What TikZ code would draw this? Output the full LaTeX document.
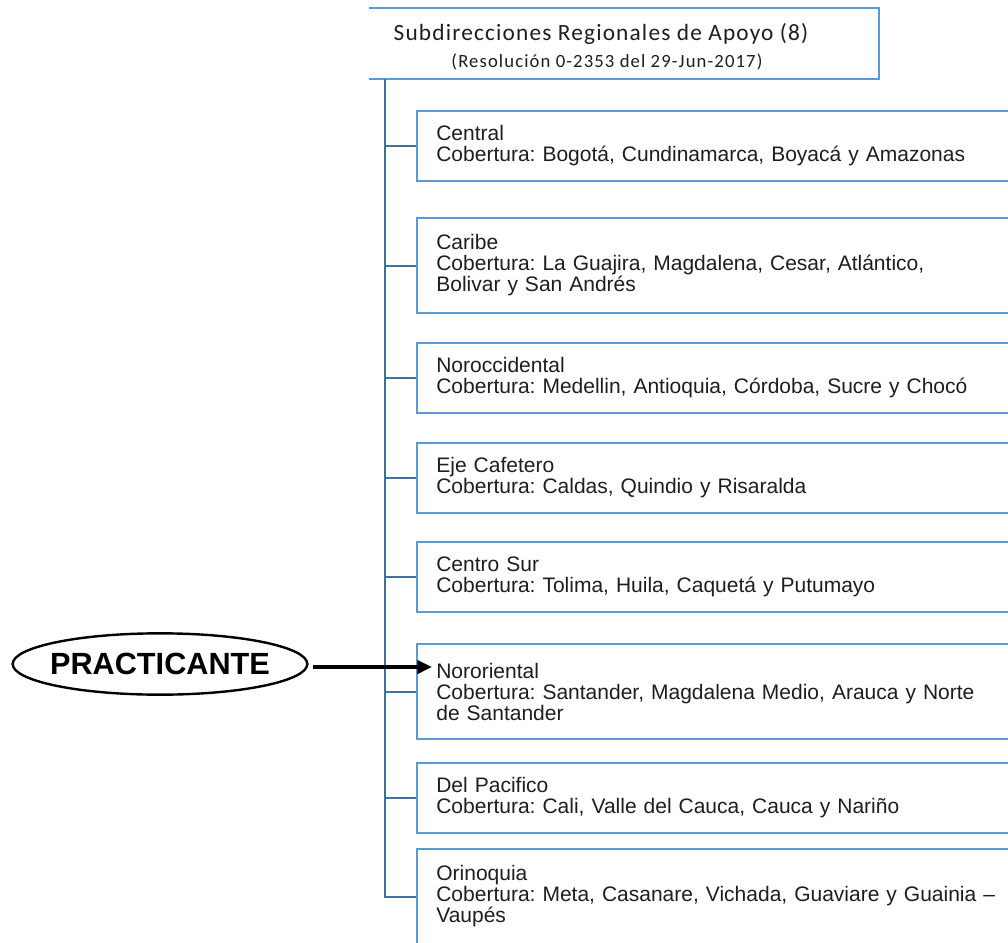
\documentclass[tikz,border=0pt]{standalone}
\usepackage{fontspec}
\setmainfont{Liberation Sans}
\newfontfamily\headfont[LetterSpace=5]{Carlito}
\newfontfamily\notefont[LetterSpace=6]{Carlito}
\usepackage{xcolor}
\usepackage{tikz}
\usetikzlibrary{shapes,arrows.meta,positioning}
\definecolor{boxblue}{RGB}{91,155,213}
\definecolor{linkblue}{RGB}{65,113,156}
\definecolor{ink}{RGB}{30,30,30}
\frenchspacing

\begin{document}
\begin{tikzpicture}[x=0.75pt, y=-0.75pt,
                    region/.style={draw=boxblue, line width=1.5pt, fill=white, anchor=west,
                                   text width=430pt, align=left, inner xsep=14.5pt,
                                   minimum height=52.5pt, text=ink,
                                   font={\fontsize{15.75}{15.75}\selectfont}},
                    tall/.style={minimum height=71.25pt},
                    headbox/.style={draw=boxblue, line width=1.5pt},
                    trunk/.style={draw=linkblue, line width=1.5pt},
                    pointer/.style={line width=2.6pt, shorten <=3.5pt,
                                    -{Triangle[length=11pt,width=10pt]}},
                   ]

\useasboundingbox (0,0) rectangle (1008,943);
\clip (0,0) rectangle (1008,943);

% header
\draw[headbox] (369,8) -| (879,79) -- (369,79);
\node[anchor=base, text=ink, font={\headfont\fontsize{17.5}{20}\selectfont}] (head) at (601,40)
    {Subdirecciones Regionales de Apoyo (8)};
\node[anchor=base, text=ink, font={\notefont\fontsize{14}{16}\selectfont}] (headnote) at (607,67)
    {(Resolución 0-2353 del 29-Jun-2017)};
\coordinate (spine) at (385,79);

% regions
\node[region] (central) at (416,146)
    {Central\\Cobertura: Bogotá, Cundinamarca, Boyacá y Amazonas};
\node[region, tall] (caribe) at (416,265.5)
    {Caribe\\Cobertura: La Guajira, Magdalena, Cesar, Atlántico,\\Bolivar y San Andrés};
\node[region] (noroccidental) at (416,378)
    {Noroccidental\\Cobertura: Medellin, Antioquia, Córdoba, Sucre y Chocó};
\node[region] (ejecafetero) at (416,478)
    {Eje Cafetero\\Cobertura: Caldas, Quindio y Risaralda};
\node[region] (centrosur) at (416,577)
    {Centro Sur\\Cobertura: Tolima, Huila, Caquetá y Putumayo};
\node[region, tall] (nororiental) at (416,691.5)
    {Nororiental\\Cobertura: Santander, Magdalena Medio, Arauca y Norte\\de Santander};
\node[region] (pacifico) at (416,798)
    {Del Pacifico\\Cobertura: Cali, Valle del Cauca, Cauca y Nariño};
\node[region, tall] (orinoquia) at (416,896.5)
    {Orinoquia\\Cobertura: Meta, Casanare, Vichada, Guaviare y Guainia –\\Vaupés};

% tree lines
\draw[trunk] (spine) |- (orinoquia.west);
\foreach \n in {central,caribe,noroccidental,ejecafetero,centrosur,nororiental,pacifico}
    \draw[trunk] (spine |- \n.west) -- (\n.west);

% practicante
\node[draw, ellipse, line width=1.8pt, minimum width=221pt, minimum height=46pt,
      inner xsep=-22pt, inner ysep=0pt,
      font={\bfseries\fontsize{23}{23}\selectfont}] (practicante) at (160,664) {PRACTICANTE};
\coordinate (target) at (432,667);
\draw[pointer] (practicante.east |- target) -- (target);

\end{tikzpicture}
\end{document}
